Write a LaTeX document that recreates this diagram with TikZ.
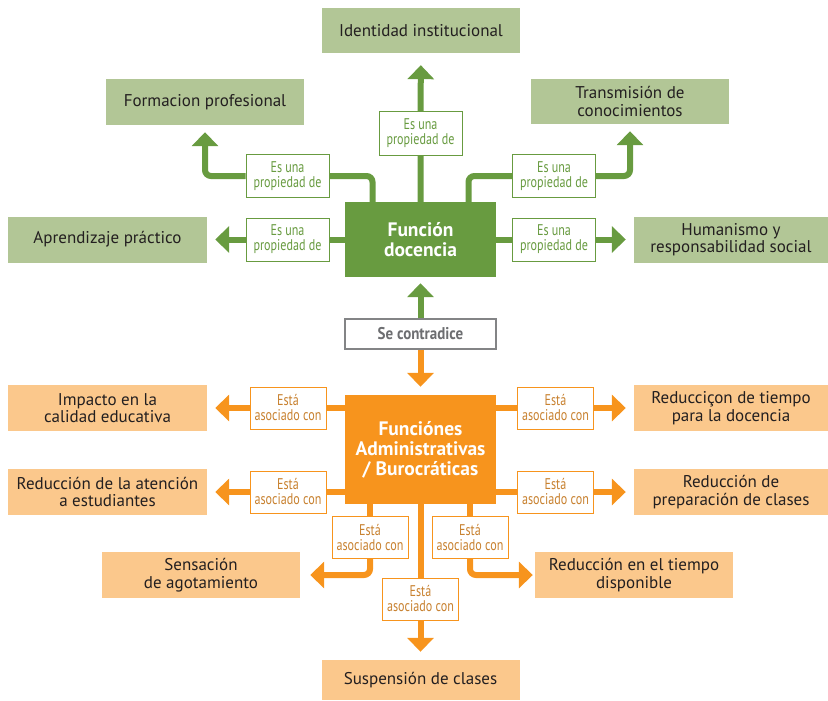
\documentclass[tikz,border=0pt]{standalone}
\usepackage{fontspec}
\setmainfont{PT Sans}
\newfontfamily\etiqfont[FakeStretch=0.78]{PT Sans}
\newfontfamily\contrafont[FakeStretch=0.88]{PT Sans}
\usepackage{tikz}
\usetikzlibrary{arrows.meta,positioning}
\definecolor{verde}{HTML}{689B40}
\definecolor{verdeclaro}{HTML}{B2C696}
\definecolor{naranja}{HTML}{F7941D}
\definecolor{naranjaclaro}{HTML}{FBC88C}
\definecolor{texto}{HTML}{231F20}
\definecolor{textonaranja}{HTML}{C8812F}
\definecolor{gris}{HTML}{6D6E71}

\begin{document}
\begin{tikzpicture}[x=1pt, y=-1pt,
		concepto/.style={rectangle, minimum width=198pt, minimum height=45pt, inner sep=2pt, align=center, text=texto, font=\fontsize{17}{17.5}\selectfont},
		hojav/.style={concepto, fill=verdeclaro},
		hojan/.style={concepto, fill=naranjaclaro},
		nucleo/.style={rectangle, minimum width=151pt, align=center, text=white, font=\bfseries\fontsize{19.5}{20}\selectfont},
		etqv/.style={rectangle, draw=verde, fill=white, line width=1pt, text=verde, minimum width=83pt, minimum height=43pt, inner sep=0pt, align=center, font=\etiqfont\fontsize{15.5}{15}\selectfont},
		etqn/.style={etqv, draw=naranja, text=textonaranja, minimum width=76pt, minimum height=42pt},
		flechav/.style={->, line width=6pt, draw=verde, rounded corners=6pt},
		flechan/.style={flechav, draw=naranja},
		>={Triangle[width=26pt, length=14pt]}
		]
	\useasboundingbox (0,0) rectangle (828,701);

		% Funcion docencia
		\node[nucleo, fill=verde, minimum height=75pt] (FD) at (420.5, 239.5) {Función\\docencia};
		\node[hojav] (ID) at (421, 30.5) {Identidad institucional};
		\node[hojav, minimum height=46pt] (FP) at (205, 102) {Formacion profesional};
		\node[hojav] (TC) at (630, 101.5) {Transmisión de\\conocimientos};
		\node[hojav, minimum width=199pt, minimum height=46pt] (AP) at (107.5, 239.5) {Aprendizaje práctico};
		\node[hojav, minimum width=194pt, minimum height=46pt] (HR) at (731, 239.5) {Humanismo y\\responsabilidad social};

		\node[etqv] (L1) at (420.5, 133.5) {Es una\\propiedad de};
		\node[etqv] (L2) at (287.5, 176) {Es una\\propiedad de};
		\node[etqv] (L3) at (554, 176) {Es una\\propiedad de};
		\node[etqv] (L4) at (287.5, 239.5) {Es una\\propiedad de};
		\node[etqv] (L5) at (554, 239.5) {Es una\\propiedad de};

		\draw[flechav, shorten >=12pt] (FD) -- (L1) -- (ID);
		\draw[flechav, shorten >=7pt] ([xshift=-48pt]FD.north) |- (L2) -| (FP);
		\draw[flechav, shorten >=7pt] ([xshift=48pt]FD.north) |- (L3) -| (TC);
		\draw[flechav, shorten >=8pt] (FD) -- (L4) -- (AP);
		\draw[flechav, shorten >=8pt] (FD) -- (L5) -- (HR);

		% Se contradice
		\node[rectangle, draw=gris!85, fill=white, line width=1.5pt, minimum width=151pt, minimum height=30pt, inner sep=0pt, text=gris, font=\contrafont\bfseries\fontsize{17}{17}\selectfont] (SC) at (420.5, 334) {Se contradice};

		% Funciones administrativas
		\node[nucleo, fill=naranja, minimum height=109pt] (FA) at (420.5, 449.5) {Funciónes\\Administrativas\\/ Burocráticas};

		\draw[flechav, shorten >=6pt] (SC) -- (FD);
		\draw[flechan, shorten >=8pt] (SC) -- (FA);

		\node[hojan, minimum width=199pt, minimum height=46pt] (IC) at (107.5, 408) {Impacto en la\\calidad educativa};
		\node[hojan, minimum width=199pt, minimum height=46pt] (RA) at (107.5, 492) {Reducción de la atención\\a estudiantes};
		\node[hojan, minimum height=46pt] (SA) at (201, 575) {Sensación\\de agotamiento};
		\node[hojan, minimum width=194pt, minimum height=46pt] (RT) at (731, 408) {Reducciçon de tiempo\\para la docencia};
		\node[hojan, minimum width=194pt, minimum height=46pt] (RP) at (731, 492) {Reducción de\\preparación de clases};
		\node[hojan, minimum height=46pt] (RD) at (634, 575) {Reducción en el tiempo\\disponible};
		\node[hojan, minimum height=40pt] (SU) at (420.5, 680) {Suspensión de clases};

		\node[etqn] (M1) at (288, 408) {Está\\asociado con};
		\node[etqn] (M2) at (288, 492) {Está\\asociado con};
		\node[etqn] (M3) at (370, 537.5) {Está\\asociado con};
		\node[etqn] (M4) at (555.5, 408) {Está\\asociado con};
		\node[etqn] (M5) at (555.5, 492) {Está\\asociado con};
		\node[etqn] (M6) at (470, 537.5) {Está\\asociado con};
		\node[etqn] (M7) at (420.5, 599) {Está\\asociado con};

		\draw[flechan, shorten >=8pt] (FA.west |- M1) -- (M1) -- (IC);
		\draw[flechan, shorten >=8pt] (FA.west |- M2) -- (M2) -- (RA);
		\draw[flechan, shorten >=8pt] (FA.east |- M4) -- (M4) -- (RT);
		\draw[flechan, shorten >=8pt] (FA.east |- M5) -- (M5) -- (RP);
		\draw[flechan, -] (FA.south -| M3) -- (M3);
		\draw[flechan, shorten >=10pt] (M3) |- (SA);
		\draw[flechan, -] (FA.south -| M6) -- (M6);
		\draw[flechan, shorten >=2pt] (M6) |- (RD);
		\draw[flechan, shorten >=8pt] (FA) -- (M7) -- (SU);
	\end{tikzpicture}
\end{document}
